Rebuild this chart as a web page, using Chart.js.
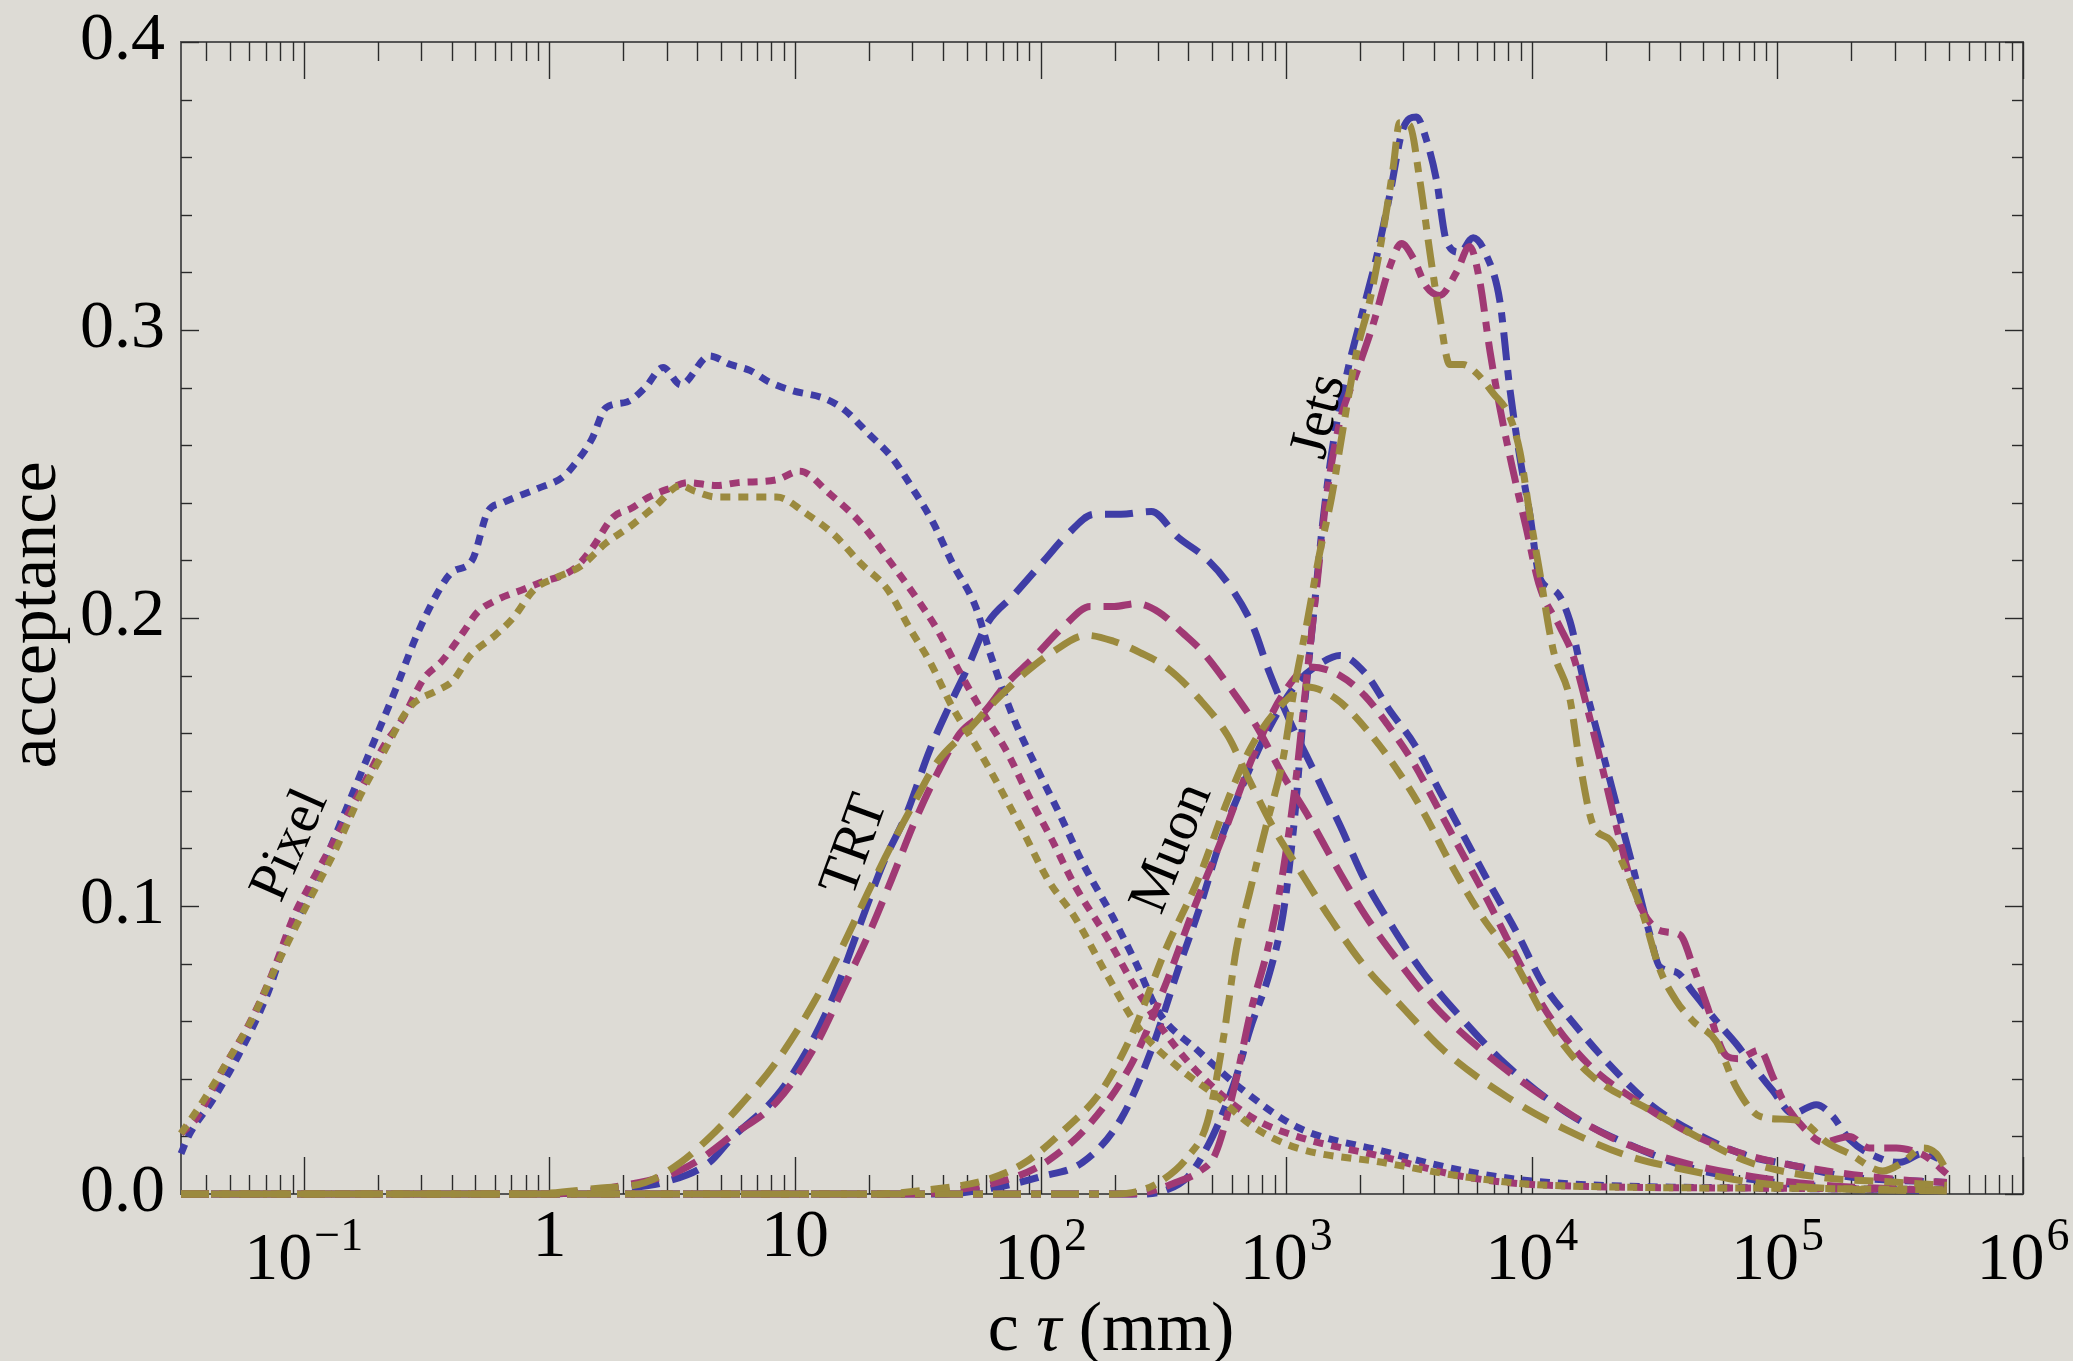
<!DOCTYPE html>
<html>
<head>
<meta charset="utf-8">
<script src="https://cdn.jsdelivr.net/npm/chart.js@4.4.1/dist/chart.umd.min.js"></script>
<style>
  html, body { margin: 0; padding: 0; background: #dddbd5; }
  #wrap { width: 2073px; height: 1361px; }
</style>
</head>
<body>
<div id="wrap"><canvas id="chart" width="2073" height="1361"></canvas></div>
<script>
// x values are log10(c tau / mm), y values are the acceptance
const pixelBlueLog = [-1.5,-1.47,-1.368,-1.267,-1.15,-1.063,-1.0,-0.918,-0.816,-0.729,-0.627,-0.54,-0.44,-0.395,-0.315,-0.25,-0.191,-0.046,0.056,0.099,0.172,0.23,0.316,0.39,0.463,0.535,0.652,0.738,0.816,0.894,0.987,1.127,1.205,1.299,1.392,1.486,1.563,1.641,1.735,1.797,1.891,1.984,2.077,2.171,2.295,2.389,2.482,2.638,2.825,3.05,3.388,3.725,4.07,5.0,5.69];
const pixelBlue    = [0.014,0.020,0.033,0.048,0.069,0.090,0.100,0.115,0.136,0.154,0.175,0.194,0.211,0.216,0.220,0.237,0.240,0.245,0.249,0.253,0.262,0.273,0.275,0.280,0.287,0.281,0.291,0.288,0.286,0.282,0.279,0.276,0.272,0.264,0.256,0.244,0.233,0.219,0.204,0.187,0.165,0.148,0.132,0.115,0.096,0.080,0.063,0.050,0.036,0.023,0.015,0.008,0.004,0.002,0.0015];

const pixelMagentaLog = [-1.5,-1.44,-1.325,-1.223,-1.136,-1.033,-0.99,-0.874,-0.758,-0.671,-0.598,-0.511,-0.438,-0.351,-0.293,-0.221,-0.104,-0.046,0.099,0.172,0.259,0.332,0.405,0.491,0.564,0.68,0.769,0.925,1.018,1.143,1.267,1.392,1.486,1.579,1.672,1.766,1.86,1.953,2.046,2.14,2.264,2.405,2.56,2.716,2.872,3.043,3.39,3.725,4.07,5.0,5.69];
const pixelMagenta    = [0.021,0.026,0.044,0.059,0.075,0.098,0.105,0.123,0.142,0.156,0.165,0.179,0.185,0.195,0.202,0.206,0.210,0.212,0.217,0.224,0.235,0.238,0.242,0.245,0.247,0.246,0.247,0.248,0.251,0.243,0.233,0.219,0.208,0.196,0.181,0.167,0.154,0.138,0.123,0.107,0.090,0.069,0.050,0.036,0.026,0.020,0.013,0.006,0.003,0.002,0.0015];

const pixelOliveLog = [-1.5,-1.412,-1.311,-1.209,-1.107,-0.99,-0.874,-0.772,-0.671,-0.569,-0.453,-0.395,-0.322,-0.221,-0.148,-0.061,0.027,0.128,0.23,0.332,0.433,0.535,0.593,0.68,0.832,0.925,1.05,1.158,1.267,1.376,1.47,1.548,1.641,1.735,1.828,1.922,2.031,2.14,2.264,2.405,2.56,2.716,2.872,3.043,3.39,3.725,4.07,5.0,5.69];
const pixelOlive    = [0.021,0.032,0.046,0.061,0.080,0.100,0.119,0.138,0.154,0.169,0.175,0.178,0.187,0.194,0.200,0.210,0.214,0.218,0.226,0.232,0.239,0.246,0.244,0.242,0.242,0.242,0.236,0.229,0.219,0.210,0.196,0.185,0.169,0.156,0.142,0.127,0.109,0.096,0.077,0.057,0.044,0.034,0.023,0.016,0.011,0.006,0.003,0.002,0.0015];

const trtBlueLog = [-1.5,0.0,0.3,0.463,0.652,0.738,0.925,1.05,1.158,1.267,1.36,1.454,1.548,1.626,1.704,1.782,1.891,2.015,2.109,2.218,2.327,2.451,2.56,2.67,2.763,2.865,2.932,3.016,3.118,3.219,3.32,3.438,3.556,3.725,3.894,4.147,4.4,4.65,4.9,5.2,5.69];
const trtBlue    = [0,0,0.002,0.004,0.011,0.019,0.034,0.050,0.069,0.094,0.115,0.132,0.154,0.169,0.183,0.198,0.208,0.220,0.229,0.236,0.236,0.237,0.228,0.221,0.212,0.197,0.181,0.164,0.146,0.128,0.109,0.092,0.077,0.060,0.045,0.028,0.017,0.009,0.005,0.0025,0.001];

const trtMagentaLog = [-1.5,0.0,0.3,0.5,0.613,0.738,0.925,1.08,1.205,1.299,1.392,1.486,1.579,1.672,1.766,1.86,1.969,2.093,2.202,2.3,2.389,2.482,2.576,2.662,2.778,2.882,2.983,3.084,3.202,3.32,3.455,3.607,3.809,4.062,4.315,4.568,4.9,5.2,5.69];
const trtMagenta    = [0,0,0.003,0.007,0.012,0.020,0.032,0.051,0.073,0.090,0.109,0.129,0.146,0.160,0.167,0.177,0.186,0.197,0.204,0.204,0.205,0.202,0.195,0.188,0.175,0.162,0.146,0.132,0.114,0.097,0.081,0.065,0.049,0.033,0.020,0.012,0.006,0.003,0.0012];

const trtOliveLog = [-1.5,-0.1,0.2,0.39,0.535,0.68,0.769,0.925,1.08,1.205,1.299,1.392,1.486,1.579,1.704,1.813,1.938,2.046,2.186,2.295,2.405,2.51,2.645,2.763,2.848,2.949,3.05,3.185,3.32,3.472,3.64,3.894,4.147,4.4,4.65,4.9,5.2,5.69];
const trtOlive    = [0,0,0.002,0.004,0.011,0.022,0.030,0.046,0.067,0.088,0.105,0.121,0.136,0.150,0.161,0.171,0.181,0.188,0.194,0.192,0.188,0.183,0.172,0.159,0.144,0.127,0.113,0.095,0.079,0.065,0.050,0.034,0.022,0.013,0.008,0.004,0.002,0.001];

const muonBlueLog = [-1.5,1.6,1.8,2.0,2.171,2.327,2.451,2.56,2.65,2.73,2.813,2.932,3.05,3.135,3.219,3.32,3.421,3.523,3.624,3.725,3.826,3.944,4.045,4.163,4.315,4.484,4.67,4.887,5.02,5.29,5.69];
const muonBlue    = [0,0,0.002,0.006,0.011,0.026,0.050,0.078,0.100,0.122,0.140,0.162,0.178,0.184,0.187,0.181,0.168,0.156,0.140,0.124,0.108,0.090,0.073,0.060,0.045,0.031,0.021,0.013,0.0107,0.006,0.004];

const muonMagentaLog = [-1.5,1.5,1.7,1.9,2.038,2.207,2.375,2.51,2.628,2.746,2.865,2.983,3.1,3.219,3.32,3.421,3.523,3.624,3.725,3.826,3.927,4.062,4.231,4.433,4.67,4.9,5.2,5.5,5.69];
const muonMagenta    = [0,0,0.002,0.006,0.012,0.025,0.046,0.073,0.100,0.125,0.152,0.173,0.183,0.180,0.173,0.162,0.149,0.133,0.117,0.101,0.084,0.063,0.045,0.032,0.020,0.013,0.008,0.005,0.004];

const muonOliveLog = [-1.5,1.3,1.548,1.782,1.938,2.093,2.249,2.375,2.51,2.645,2.763,2.856,2.983,3.084,3.202,3.32,3.438,3.556,3.674,3.792,3.927,4.062,4.231,4.484,4.67,4.887,5.158,5.5,5.69];
const muonOlive    = [0,0,0.0015,0.005,0.011,0.022,0.036,0.056,0.085,0.110,0.137,0.155,0.170,0.176,0.172,0.162,0.149,0.133,0.114,0.097,0.081,0.060,0.042,0.029,0.020,0.011,0.006,0.004,0.003];

const jetsBlueLog = [-1.5,2.4,2.5,2.6,2.7,2.794,2.852,2.933,2.987,3.03,3.069,3.11,3.15,3.19,3.245,3.313,3.367,3.422,3.476,3.53,3.571,3.612,3.652,3.707,3.761,3.815,3.87,3.91,3.951,3.992,4.032,4.1,4.155,4.209,4.277,4.345,4.413,4.481,4.52,4.589,4.657,4.752,4.834,4.887,4.98,5.063,5.158,5.225,5.293,5.429,5.5,5.59,5.69];
const jetsBlue    = [0,0,0.001,0.006,0.020,0.040,0.057,0.077,0.097,0.127,0.165,0.200,0.234,0.260,0.284,0.307,0.325,0.347,0.370,0.374,0.366,0.352,0.331,0.327,0.332,0.326,0.310,0.280,0.256,0.236,0.214,0.209,0.199,0.179,0.157,0.135,0.113,0.090,0.079,0.077,0.070,0.060,0.052,0.046,0.036,0.028,0.031,0.027,0.019,0.012,0.011,0.014,0.011];

const jetsMagentaLog = [-1.5,2.35,2.45,2.55,2.65,2.712,2.797,2.852,2.933,2.987,3.041,3.082,3.123,3.164,3.218,3.286,3.354,3.422,3.469,3.517,3.571,3.625,3.693,3.747,3.788,3.829,3.87,3.924,3.978,4.032,4.114,4.168,4.222,4.29,4.358,4.426,4.494,4.549,4.603,4.657,4.711,4.792,4.84,4.928,4.98,5.02,5.118,5.185,5.293,5.375,5.484,5.55,5.605,5.69];
const jetsMagenta    = [0,0,0.001,0.004,0.008,0.014,0.040,0.062,0.088,0.112,0.145,0.178,0.210,0.242,0.268,0.285,0.302,0.322,0.330,0.325,0.315,0.312,0.320,0.329,0.317,0.293,0.273,0.251,0.231,0.211,0.197,0.187,0.170,0.147,0.123,0.103,0.093,0.091,0.090,0.079,0.066,0.048,0.047,0.050,0.041,0.033,0.022,0.018,0.020,0.016,0.016,0.015,0.013,0.007];

const jetsOliveLog = [-1.5,2.3,2.4,2.5,2.6,2.679,2.746,2.797,2.852,2.916,2.987,3.034,3.084,3.135,3.185,3.232,3.286,3.34,3.394,3.435,3.462,3.503,3.544,3.585,3.625,3.666,3.72,3.775,3.843,3.91,3.951,3.992,4.032,4.087,4.155,4.195,4.25,4.318,4.385,4.453,4.521,4.589,4.657,4.751,4.833,4.928,5.02,5.104,5.2,5.293,5.429,5.511,5.592,5.647,5.69];
const jetsOlive    = [0,0,0.001,0.005,0.013,0.025,0.055,0.085,0.105,0.127,0.151,0.176,0.198,0.222,0.242,0.266,0.292,0.310,0.334,0.356,0.372,0.371,0.352,0.327,0.305,0.288,0.288,0.285,0.278,0.270,0.258,0.236,0.216,0.189,0.172,0.150,0.128,0.123,0.112,0.097,0.078,0.067,0.060,0.053,0.037,0.027,0.026,0.025,0.018,0.014,0.008,0.011,0.016,0.014,0.008];

const curveLabels = ['Pixel', 'TRT', 'Muon', 'Jets'];
const yTickValues = [0, 0.1, 0.2, 0.3, 0.4];
const yTickLabels = ['0.0', '0.1', '0.2', '0.3', '0.4'];
const xTickValues = [0.1, 1, 10, 100, 1e3, 1e4, 1e5, 1e6];
const xTickBase   = ['10', '1', '10', '10', '10', '10', '10', '10'];
const xTickExp    = ['\u22121', '', '', '2', '3', '4', '5', '6'];

const BLUE = 'rgb(63,61,166)', MAGENTA = 'rgb(160,57,116)', OLIVE = 'rgb(155,138,62)';
const SERIF = '"Liberation Serif", "DejaVu Serif", serif';

// where each detector label sits (data coords) and how far it is turned
const labelAnchors = {
  Pixel: { x: 10 ** -1.053, y: 0.121, deg: -66 },
  TRT:   { x: 10 ** 1.247,  y: 0.121, deg: -70 },
  Muon:  { x: 10 ** 2.537,  y: 0.120, deg: -68 },
  Jets:  { x: 10 ** 3.137,  y: 0.270, deg: -76 }
};

const pts = (xs, ys) => xs.map((lg, i) => ({ x: 10 ** lg, y: ys[i] }));

function series(label, xs, ys, color, dash, order) {
  return {
    label, data: pts(xs, ys), borderColor: color, borderWidth: 7,
    borderDash: dash, borderJoinStyle: 'round', pointRadius: 0,
    cubicInterpolationMode: 'monotone', fill: false, clip: false, order
  };
}

const DOT = [10, 8], MUON = [19, 11], LONG = [28, 13], DASHDOT = [28, 10, 10, 10];

const datasets = [
  series('Pixel olive', pixelOliveLog, pixelOlive, OLIVE, DOT, 1),
  series('Pixel magenta', pixelMagentaLog, pixelMagenta, MAGENTA, DOT, 2),
  series('Pixel blue', pixelBlueLog, pixelBlue, BLUE, DOT, 3),
  series('TRT olive', trtOliveLog, trtOlive, OLIVE, LONG, 1),
  series('TRT magenta', trtMagentaLog, trtMagenta, MAGENTA, LONG, 2),
  series('TRT blue', trtBlueLog, trtBlue, BLUE, LONG, 3),
  series('Muon olive', muonOliveLog, muonOlive, OLIVE, MUON, 1),
  series('Muon magenta', muonMagentaLog, muonMagenta, MAGENTA, MUON, 2),
  series('Muon blue', muonBlueLog, muonBlue, BLUE, MUON, 3),
  series('Jets olive', jetsOliveLog, jetsOlive, OLIVE, DASHDOT, 1),
  series('Jets magenta', jetsMagentaLog, jetsMagenta, MAGENTA, DASHDOT, 2),
  series('Jets blue', jetsBlueLog, jetsBlue, BLUE, DASHDOT, 3)
];

// frame with inward ticks, like the Mathematica original
const framePlugin = {
  id: 'frame',
  beforeDatasetsDraw(chart) {
    const { ctx, chartArea: a, scales: { x, y } } = chart;
    const seg = (x1, y1, x2, y2) => { ctx.beginPath(); ctx.moveTo(x1, y1); ctx.lineTo(x2, y2); ctx.stroke(); };
    ctx.save();
    ctx.strokeStyle = '#555';
    ctx.lineWidth = 2;
    ctx.strokeRect(a.left, a.top, a.right - a.left, a.bottom - a.top);
    ctx.strokeStyle = '#2a2a2a';
    ctx.lineWidth = 1.4;
    for (let e = -2; e <= 6; e++) {
      for (let m = 1; m <= 9; m++) {
        const v = m * 10 ** e;
        if (v < x.min * 0.999 || v > x.max * 1.001) continue;
        const px = Math.round(x.getPixelForValue(v)) + 0.5;
        const len = m === 1 ? 37 : 19;
        seg(px, a.bottom, px, a.bottom - len);
        seg(px, a.top, px, a.top + len);
      }
    }
    for (let k = 0; k <= 20; k++) {
      const py = Math.round(y.getPixelForValue(k * 0.02)) + 0.5;
      const len = k % 5 === 0 ? 18 : 11;
      seg(a.left, py, a.left + len, py);
      seg(a.right, py, a.right - len, py);
    }
    ctx.restore();
  }
};

const textPlugin = {
  id: 'texts',
  afterDraw(chart) {
    const { ctx, chartArea: a, scales: { x, y } } = chart;
    ctx.save();
    ctx.fillStyle = '#000';

    // y tick labels
    ctx.font = `68px ${SERIF}`;
    ctx.textAlign = 'right';
    ctx.textBaseline = 'alphabetic';
    yTickValues.forEach((v, i) => ctx.fillText(yTickLabels[i], 165, y.getPixelForValue(v) + 17));

    // x tick labels, with raised exponents
    ctx.textAlign = 'left';
    xTickValues.forEach((v, i) => {
      const px = x.getPixelForValue(v);
      ctx.font = `68px ${SERIF}`;
      const wb = ctx.measureText(xTickBase[i]).width;
      if (!xTickExp[i]) {
        ctx.fillText(xTickBase[i], px - wb / 2, 1256);
        return;
      }
      ctx.font = `46px ${SERIF}`;
      const we = ctx.measureText(xTickExp[i]).width;
      const x0 = px - (wb + we + 2) / 2;
      ctx.font = `68px ${SERIF}`;
      ctx.fillText(xTickBase[i], x0, 1279);
      ctx.font = `46px ${SERIF}`;
      ctx.fillText(xTickExp[i], x0 + wb + 2, 1250);
    });

    // x axis title: c τ (mm), tau in italics
    const parts = [['c ', ''], ['\u03c4', 'italic '], [' (mm)', '']];
    let total = 0;
    parts.forEach(([t, s]) => { ctx.font = `${s}70px ${SERIF}`; total += ctx.measureText(t).width; });
    let cx = 1111 - total / 2;
    parts.forEach(([t, s]) => {
      ctx.font = `${s}70px ${SERIF}`;
      ctx.fillText(t, cx, 1350);
      cx += ctx.measureText(t).width;
    });

    // y axis title
    ctx.save();
    ctx.translate(55, 615);
    ctx.rotate(-Math.PI / 2);
    ctx.textAlign = 'center';
    ctx.font = `70px ${SERIF}`;
    ctx.fillText('acceptance', 0, 0);
    ctx.restore();

    // detector labels along the curves
    ctx.font = `56px ${SERIF}`;
    ctx.textAlign = 'center';
    ctx.textBaseline = 'middle';
    curveLabels.forEach(name => {
      const p = labelAnchors[name];
      ctx.save();
      ctx.translate(x.getPixelForValue(p.x), y.getPixelForValue(p.y));
      ctx.rotate(p.deg * Math.PI / 180);
      ctx.fillText(name, 0, 0);
      ctx.restore();
    });
    ctx.restore();
  }
};

new Chart(document.getElementById('chart'), {
  type: 'line',
  data: { datasets },
  options: {
    responsive: false,
    animation: false,
    layout: { padding: { left: 181, right: 50, top: 42, bottom: 167 } },
    plugins: { legend: { display: false }, tooltip: { enabled: false } },
    scales: {
      x: { type: 'logarithmic', min: 10 ** -1.5, max: 1e6, display: false },
      y: { type: 'linear', min: 0, max: 0.4, display: false }
    }
  },
  plugins: [framePlugin, textPlugin]
});
</script>
</body>
</html>
